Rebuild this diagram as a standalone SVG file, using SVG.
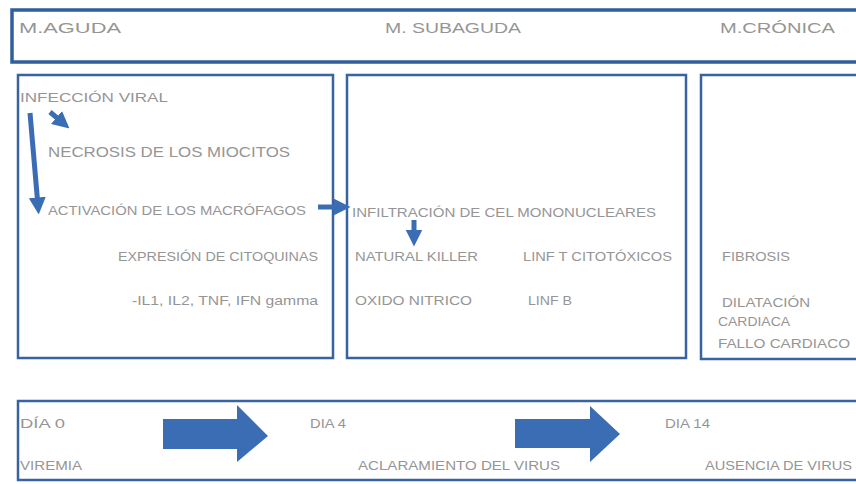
<svg xmlns="http://www.w3.org/2000/svg" width="856" height="484" viewBox="0 0 856 484">
<style>
.box{fill:#ffffff;stroke:#3863a0;stroke-width:2.5}
.bar{fill:#ffffff;stroke:#2f5f9c;stroke-width:3.5}
.t{font-family:"Liberation Sans","DejaVu Sans",sans-serif;fill:#959595;font-size:13px}
.h{font-size:15px}
.ar{fill:#3b6db5}
.ln{stroke:#3b6db5;stroke-width:5;fill:none}
</style>
<defs>
<marker id="ah" markerWidth="3.4" markerHeight="3.4" refX="1.7" refY="1.7" orient="auto" markerUnits="strokeWidth">
<path d="M0,0 L3.4,1.7 L0,3.4 Z" fill="#3b6db5"/>
</marker>
</defs>
<rect width="856" height="484" fill="#ffffff"/>
<g id="header">
<rect class="bar" x="12" y="10" width="860" height="52"/>
<text class="t h" x="19" y="33" textLength="102" lengthAdjust="spacingAndGlyphs">M.AGUDA</text>
<text class="t h" x="385" y="33" textLength="136" lengthAdjust="spacingAndGlyphs">M. SUBAGUDA</text>
<text class="t h" x="720" y="33" textLength="115" lengthAdjust="spacingAndGlyphs">M.CRÓNICA</text>
</g>
<g id="aguda">
<rect class="box" x="18" y="75" width="315" height="283"/>
<text class="t" x="20" y="102" textLength="148" lengthAdjust="spacingAndGlyphs">INFECCIÓN VIRAL</text>
<text class="t h" x="48" y="157" textLength="242" lengthAdjust="spacingAndGlyphs">NECROSIS DE LOS MIOCITOS</text>
<text class="t" x="48" y="215" textLength="258" lengthAdjust="spacingAndGlyphs">ACTIVACIÓN DE LOS MACRÓFAGOS</text>
<text class="t" x="118" y="261" textLength="200" lengthAdjust="spacingAndGlyphs">EXPRESIÓN DE CITOQUINAS</text>
<text class="t" x="132" y="305" textLength="186" lengthAdjust="spacingAndGlyphs">-IL1, IL2, TNF, IFN gamma</text>
</g>
<g id="subaguda">
<rect class="box" x="347" y="75" width="339" height="283"/>
<text class="t" x="352" y="217" textLength="304" lengthAdjust="spacingAndGlyphs">INFILTRACIÓN DE CEL MONONUCLEARES</text>
<text class="t" x="355" y="261" textLength="123" lengthAdjust="spacingAndGlyphs">NATURAL KILLER</text>
<text class="t" x="523" y="261" textLength="149" lengthAdjust="spacingAndGlyphs">LINF T CITOTÓXICOS</text>
<text class="t" x="355" y="305" textLength="117" lengthAdjust="spacingAndGlyphs">OXIDO NITRICO</text>
<text class="t" x="528" y="305" textLength="44" lengthAdjust="spacingAndGlyphs">LINF B</text>
</g>
<g id="cronica">
<rect class="box" x="701" y="75" width="170" height="284"/>
<text class="t" x="722" y="261" textLength="68" lengthAdjust="spacingAndGlyphs">FIBROSIS</text>
<text class="t" x="722" y="307" textLength="88" lengthAdjust="spacingAndGlyphs">DILATACIÓN</text>
<text class="t" x="718" y="326" textLength="72" lengthAdjust="spacingAndGlyphs">CARDIACA</text>
<text class="t" x="718" y="348" textLength="132" lengthAdjust="spacingAndGlyphs">FALLO CARDIACO</text>
</g>
<g id="timeline">
<rect class="box" x="18" y="401" width="860" height="79"/>
<text class="t" x="20" y="428" textLength="45" lengthAdjust="spacingAndGlyphs">DÍA 0</text>
<text class="t" x="310" y="428" textLength="36" lengthAdjust="spacingAndGlyphs">DIA 4</text>
<text class="t" x="665" y="428" textLength="45" lengthAdjust="spacingAndGlyphs">DIA 14</text>
<text class="t" x="20" y="470" textLength="62" lengthAdjust="spacingAndGlyphs">VIREMIA</text>
<text class="t" x="358" y="470" textLength="202" lengthAdjust="spacingAndGlyphs">ACLARAMIENTO DEL VIRUS</text>
<text class="t" x="705" y="470" textLength="147" lengthAdjust="spacingAndGlyphs">AUSENCIA DE VIRUS</text>
</g>
<g id="connectors">
<line class="ln" x1="30" y1="113" x2="38" y2="206" marker-end="url(#ah)"/>
<line class="ln" x1="50" y1="112" x2="63" y2="123" marker-end="url(#ah)"/>
<line class="ln" x1="318" y1="207" x2="342" y2="207" marker-end="url(#ah)"/>
<line class="ln" x1="414" y1="220" x2="414" y2="238" marker-end="url(#ah)"/>
<path class="ar" d="M163,419 L237,419 L237,405 L268,436 L237,462 L237,449 L163,449 Z"/>
<path class="ar" d="M515,419 L590,419 L590,406 L620,434 L590,462 L590,448 L515,448 Z"/>
</g>
</svg>
